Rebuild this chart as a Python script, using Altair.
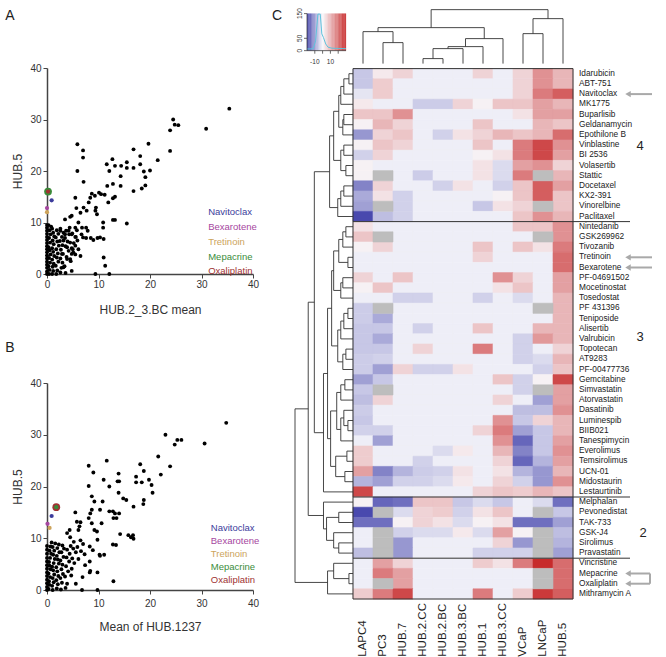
import altair as alt
import pandas as pd

FONT = "Liberation Sans"

# ---------------- Panels A and B (scatter) ----------------
a_points = [
    (35.4, 32.1), (24.5, 30.0), (24.8, 29.0), (25.5, 28.9), (23.9, 27.9), (30.9, 28.2), (23.9, 23.9),
    (19.7, 25.3), (21.5, 22.1), (20.0, 20.1), (18.8, 19.9), (19.1, 18.8), (19.1, 17.2), (18.4, 16.6),
    (16.8, 16.1), (18.1, 22.9), (18.1, 21.3), (16.8, 24.2), (16.8, 20.6), (15.5, 21.7), (15.5, 20.6),
    (14.4, 21.0), (13.2, 21.0), (12.7, 22.3), (11.6, 21.3), (12.1, 20.0), (11.7, 17.1), (12.8, 17.5),
    (14.3, 19.0), (14.3, 17.1), (13.2, 15.0), (12.8, 14.7), (11.9, 13.9), (10.5, 15.5), (11.2, 15.4),
    (10.1, 15.8), (9.3, 15.2), (8.7, 15.6), (8.4, 14.8), (8.1, 13.9), (9.5, 12.9), (9.7, 11.6),
    (9.4, 12.3), (7.1, 12.9), (7.7, 12.3), (6.5, 11.9), (5.9, 25.2), (7.0, 24.0), (7.0, 22.6),
    (5.9, 20.0), (7.1, 17.9), (5.5, 14.8), (5.7, 12.8), (4.8, 11.3), (4.5, 11.1), (3.5, 10.6),
    (10.9, 10.0), (10.9, 9.0), (12.8, 10.5), (13.2, 10.5), (15.5, 9.8), (7.6, 9.0), (6.8, 9.0),
    (7.9, 8.4), (6.7, 7.7), (7.0, 7.1), (7.6, 7.0), (8.5, 7.0), (9.0, 6.6), (9.8, 7.0), (10.3, 7.1),
    (11.0, 6.8), (5.9, 6.5), (5.5, 5.5), (6.1, 4.8), (6.5, 3.5), (4.8, 3.9), (4.5, 2.9), (11.0, 3.2),
    (11.3, 1.6), (9.4, 0.0), (12.1, 0.0), (2.6, 8.4), (3.5, 7.7), (4.2, 8.4), (4.8, 7.7), (5.5, 7.2),
    (3.2, 6.5), (4.5, 6.1), (3.9, 5.2), (5.0, 4.8), (2.9, 3.9), (3.9, 2.9), (3.2, 1.3), (4.8, 0.6),
    (6.1, 10.0), (5.5, 9.0),
]
a_cluster = [
    (0, 0), (0, 0.5), (0, 1.2), (0, 1.8), (0, 2.4), (0, 3.0), (0, 3.6), (0, 4.2), (0, 4.8), (0, 5.4),
    (0, 6.0), (0, 6.6), (0, 7.2), (0, 7.8), (0, 8.4), (0, 9.0), (0, 9.5),
    (0.4, 0), (0.5, 0.8), (0.3, 1.5), (0.6, 2.2), (0.4, 3.1), (0.7, 3.8), (0.5, 4.6), (0.3, 5.2),
    (0.6, 6.1), (0.4, 7.0), (0.7, 7.7), (0.5, 8.5), (0.8, 9.2), (0.3, 9.5),
    (1.0, 0), (1.2, 0.6), (1.1, 1.4), (1.3, 2.0), (1.0, 2.8), (1.4, 3.5), (1.2, 4.3), (1.0, 5.0),
    (1.3, 5.8), (1.1, 6.5), (1.4, 7.3), (1.2, 8.0), (1.0, 8.8),
    (1.8, 0), (2.0, 0.7), (1.7, 1.6), (2.2, 2.4), (1.9, 3.2), (2.1, 4.0), (1.8, 4.8), (2.3, 5.5),
    (2.0, 6.3), (1.7, 7.1), (2.2, 7.8), (1.9, 8.5),
    (2.6, 0.3), (2.8, 1.2), (3.0, 2.2), (2.6, 3.0), (3.1, 3.9), (2.7, 4.7), (3.0, 5.6), (2.5, 6.4),
    (2.9, 7.2), (3.2, 8.0), (2.6, 8.8),
    (3.6, 0.2), (3.4, 1.5), (3.8, 3.3), (4.2, 4.5), (3.6, 5.4), (4.0, 6.3), (3.5, 7.0), (4.3, 7.7),
    (3.7, 8.4), (4.4, 9.0),
    (4.8, 5.0), (5.2, 6.0), (5.6, 7.2), (4.9, 7.9), (5.8, 8.5), (5.1, 4.2), (4.6, 2.5), (5.5, 3.8),
]
b_points = [
    (34.8, 32.3), (30.6, 28.3), (23.0, 30.0), (25.3, 29.0), (26.1, 29.0), (24.8, 28.1), (23.9, 23.9),
    (21.6, 25.8), (22.1, 22.3), (19.8, 21.3), (20.3, 20.3), (20.5, 18.8), (18.8, 23.0), (18.1, 24.3),
    (17.3, 21.9), (17.3, 20.8), (18.4, 20.8), (18.8, 17.4), (18.7, 16.6), (16.8, 16.1), (14.8, 17.7),
    (15.4, 17.4), (13.7, 21.0), (14.0, 21.0), (13.9, 22.5), (13.9, 18.8), (11.6, 25.0), (11.0, 21.3),
    (12.1, 20.0), (10.8, 17.1), (10.3, 15.5), (12.1, 15.2), (12.8, 15.2), (13.2, 14.8), (14.0, 14.8),
    (12.9, 13.9), (13.5, 13.9), (8.1, 24.0), (9.0, 22.7), (8.1, 20.1), (8.7, 18.1), (9.2, 17.1),
    (8.1, 13.9), (8.7, 15.5), (8.4, 14.8), (8.7, 12.9), (9.2, 11.6), (9.7, 11.3), (10.6, 12.9),
    (5.5, 15.0), (5.8, 13.2), (6.5, 13.1), (6.1, 11.6), (6.3, 12.3), (4.4, 11.6), (3.9, 11.0),
    (9.8, 9.7), (14.2, 10.8), (15.8, 10.6), (16.3, 10.2), (16.7, 10.6), (16.8, 9.9), (12.8, 8.8),
    (13.4, 8.7), (8.3, 8.4), (8.9, 7.7), (10.3, 6.6), (11.1, 6.8), (10.2, 6.8), (8.3, 5.5), (8.4, 3.7),
    (8.3, 3.4), (9.8, 3.4), (12.9, 1.7), (6.8, 0.0), (9.8, 0.0), (6.5, 9.6), (7.0, 8.9), (5.9, 8.3),
    (6.6, 7.5), (7.3, 6.9), (5.2, 9.3), (6.1, 6.0), (7.4, 4.8), (6.9, 2.5), (5.6, 1.2), (4.5, 10.2),
]
b_cluster = [
    (0, 0), (0, 0.6), (0, 1.3), (0, 2.0), (0, 2.7), (0, 3.4), (0, 4.1), (0, 4.8), (0, 5.5), (0, 6.2),
    (0, 7.0), (0, 7.8), (0, 8.5),
    (0.3, 0.2), (0.5, 1.0), (0.4, 1.7), (0.6, 2.5), (0.3, 3.2), (0.7, 4.0), (0.5, 4.7), (0.4, 5.4),
    (0.6, 6.2), (0.8, 7.0), (0.5, 7.6), (0.7, 8.4), (0.9, 9.2),
    (1.1, 0), (1.0, 0.8), (1.3, 1.5), (1.1, 2.3), (1.4, 3.0), (1.2, 3.8), (1.0, 4.5), (1.3, 5.2),
    (1.5, 6.0), (1.2, 6.8), (1.4, 7.6), (1.1, 8.3), (1.6, 9.0),
    (1.9, 0.3), (2.1, 1.1), (1.8, 1.9), (2.2, 2.7), (2.0, 3.6), (1.8, 4.4), (2.3, 5.1), (2.1, 5.9),
    (1.9, 6.6), (2.4, 7.3), (2.0, 8.1), (2.3, 8.8),
    (2.7, 0.1), (2.9, 1.4), (2.6, 2.3), (3.1, 3.1), (2.8, 4.0), (3.0, 4.9), (2.6, 5.7), (3.2, 6.4),
    (2.8, 7.3), (3.3, 8.0), (3.0, 8.6),
    (3.6, 0.4), (3.9, 1.2), (3.5, 2.6), (4.1, 3.6), (3.7, 4.6), (4.3, 5.5), (3.8, 6.3), (4.4, 7.0),
    (3.9, 7.8), (4.6, 8.5),
    (4.8, 4.1), (5.3, 5.2), (4.9, 6.1), (5.6, 7.3), (5.1, 8.0), (4.7, 2.8),
]

hl_names = ["Navitoclax", "Bexarotene", "Tretinoin", "Mepacrine", "Oxaliplatin"]
hl_colors = ["#3c3c9c", "#a646a0", "#cda45c", "#3a8c3a", "#a03232"]
hl_ax = [0.9, 0.0, 0.0, 0.2, 0.2]
hl_ay = [14.3, 12.8, 12.0, 16.0, 16.0]
hl_bx = [0.9, 0.1, 0.5, 1.8, 1.8]
hl_by = [14.3, 12.8, 12.0, 16.0, 16.0]

# ---------------- Panel C (heatmap) ----------------
cell_lines = ["LAPC4", "PC3", "HUB.7", "HUB.2.CC", "HUB.2.BC", "HUB.3.BC", "HUB.1", "HUB.3.CC",
              "VCaP", "LNCaP", "HUB.5"]
drugs_4 = ["Idarubicin", "ABT-751", "Navitoclax", "MK1775", "Buparlisib", "Geldanamycin",
           "Epothilone B", "Vinblastine", "BI 2536", "Volasertib", "Stattic", "Docetaxel",
           "KX2-391", "Vinorelbine", "Paclitaxel"]
drugs_3 = ["Nintedanib", "GSK269962", "Tivozanib", "Tretinoin", "Bexarotene", "PF-04691502",
           "Mocetinostat", "Tosedostat", "PF 431396", "Teniposide", "Alisertib", "Valrubicin",
           "Topotecan", "AT9283", "PF-00477736", "Gemcitabine", "Simvastatin", "Atorvastatin",
           "Dasatinib", "Luminespib", "BIIB021", "Tanespimycin", "Everolimus", "Temsirolimus",
           "UCN-01", "Midostaurin", "Lestaurtinib"]
drugs_2 = ["Melphalan", "Pevonedistat", "TAK-733", "GSK-J4", "Sirolimus", "Pravastatin"]
drugs_1 = ["Vincristine", "Mepacrine", "Oxaliplatin", "Mithramycin A"]
N = None
values_4 = [
    [-5, 2, 5, -1, -1, -1, 5, -1, 5, 14, 9],
    [-5, 6, -1, -1, -1, -1, -1, -1, 5, 14, 9],
    [-2, 6, -1, -1, -1, -1, -1, -1, 5, 17, 21],
    [2, -1, -1, -4.5, -4.5, 5, 1, 7, 7, 12, 9],
    [7, 7, 14, -1, -1, -1, -1, -1, 3, 12, 12],
    [1, 9, 5, -1, -1, -1, 7, -1, -1, 9, 7],
    [-10, 5, 7, -1, -4, 3, 5, 9, 7, 9, 19],
    [1, 7, 5, -1, -1, -1, 7, -1, 17, 24, 14],
    [-4, 5, -1, -1, -1, -1, 1, 3, 17, 24, 12],
    [1, -1, -1, -1, -1, -1, 3, -3, 12, 14, 5],
    [1, N, -1, -4.5, -1, -1, 3, -3, 17, N, 9],
    [-12, 5, -1, -1, -4, 3, -1, -4, 7, 21, 12],
    [-8, 3, -4, -1, -1, -1, -1, 1, 7, 21, 7],
    [-9, N, -4, -1, -1, -1, -5, 3, 5, N, 7],
    [-18, -6, -4, -1, -1, -1, -1, -1, 7, 14, 9],
]
values_3 = [
    [3, -1, -1, -1, -1, -1, -1, -1, 7, 7, 14],
    [7, N, -1, -1, -1, -1, -1, -1, -1, N, 14],
    [1, 5, -1, -1, -1, -1, 7, -1, 7, 3, 17],
    [-1, -1, -1, -1, -1, -1, 5, -1, -1, -1, 19],
    [-1, -1, -1, -1, -1, -1, -1, -1, -1, -1, 19],
    [5, -1, 7, -1, -1, -1, -1, 14, 5, -1, 12],
    [1, 7, -1, -1, -1, -1, -1, 3, 7, -1, 12],
    [-1, -1, -4, -4, -1, -1, -4, -1, -3, -1, 9],
    [-4.5, N, -1, -1, -1, -1, -1, -1, -1, N, 9],
    [-4.5, -8, -1, -1, -1, -1, -1, -1, -1, -1, 9],
    [-5, -5, -1, -4, -1, -1, 7, -1, -1, 9, 9],
    [-5, -8, -1, -1, -1, -1, -1, -1, -4, 13, 9],
    [-5, -5, -1, 5, -1, -1, 17, -1, -4, -1, 5],
    [-4.5, -4, -1, -1, -1, -1, -1, -1, -4, -3, 9],
    [-4.5, -9, 5, -4, -4, 3, -1, -1, -1, -4, 7],
    [-9, -5, -1, -1, -1, -1, -1, 7, -4, 1, 24],
    [-5, N, -1, -1, -1, -1, -1, -1, -4, N, 12],
    [-6, 5, -1, -1, -1, -1, -1, 5, -1, -9, 12],
    [-4.5, -1, -1, -1, -1, -1, -1, -1, -6, -6, 14],
    [-5, -1, -1, -1, -1, -1, -1, 14, -5, 5, 9],
    [-4, -4, -1, -1, -1, -1, 5, 17, -9, -5, 9],
    [-1, -9, -1, -1, -1, -1, -1, 14, -15, -5, 12],
    [6, -1, -1, -1, -3, 2, -1, 9, -12, -5, 14],
    [6, -1, -1, -4, -1, -1, -1, 5, -15, -7, 12],
    [12, -12, -7, -4.5, -4, 3, -1, 3, -7, -10, 9],
    [-7, -9, -4, -4, -3, 2, -1, 5, -4, -10, 14],
    [24, -1, -1, -1, -1, -1, 5, 7, 6, 9, 7],
]
values_2 = [
    [1, -15, -14, 7, 7, -5, -3, -5, -1, -3, -14],
    [-18, N, -3, 5, 6, -4, 3, 7, -1, N, -5],
    [-14, -14, 1, 5, 3, -3, 1, 3, -14, -14, -9],
    [-1, N, -4, -3, -3, 2, -3, 12, 1, N, -6],
    [-1, N, -10, -1, -1, -1, -1, 5, -10, N, -7],
    [-6, N, -10, -1, -1, -1, -4, -4, -4, N, -9],
]
values_1 = [
    [-1, 12, 5, -1, -1, -1, 6, 3, 17, 28, 19],
    [-1, 17, 12, -1, -1, -1, -1, -1, -1, N, 19],
    [-1, N, 12, -1, -1, -1, -1, -1, -1, N, 19],
    [6, 17, 24, -1, -1, -1, 17, -1, 6, 26, 21],
]

# dendrograms: (left, right, merge height); leaves are row / column indices
row_tree = (
    ((((((((0, 1, 4), 2, 9), 3, 12), ((4, 5, 9), 6, 10), 14),
        ((7, 8, 9), (9, 10, 7), 12), 19),
       ((((11, 12, 9), 13, 12), 14, 15)), 23),
      (((((((15, 16, 7), 17, 10), (18, 19, 5), 14), (((20, 21, 10), 22, 12)), 19),
          (((((23, 24, 5), 25, 9), 26, 12)), ((27, 28, 7), 29, 10), 15), 21),
         (((((30, 31, 8), 32, 12), ((33, (34, 35, 5), 9), 36, 12), 16),
           ((37, 38, 6), (39, 40, 8), 17), 22)), 25),
        41, 29), 38),
     (42, ((43, 44, 14), (45, (46, 47, 14), 19), 26), 29), 44),
    ((48, (49, 50, 4), 19), 51, 25), 57)
col_tree = (((0, (1, 2, 21), 32), ((((3, 4, 5), 5, 15), 6, 17), 7, 25), 36),
            ((8, 9, 30), 10, 45), 54)

group_labels = ["4", "3", "2"]
arrow_drugs = ["Navitoclax", "Tretinoin", "Bexarotene"]
bracket_drugs = ["Mepacrine", "Oxaliplatin"]

# colour-key histogram (value, count) read from the key
hist_v = [-20, -15, -12, -9, -6, -3, -1, 1, 4, 7, 12, 20, 30]
hist_count = [7, 7, 8, 40, 148, 148, 68, 54, 27, 14, 10, 9, 8]

# =====================================================================
AX_COMMON = dict(grid=False, tickSize=4, labelFontSize=10, titleFontSize=12,
                 titleFontWeight="normal", labelColor="#333333", titleColor="#333333",
                 domainColor="#444444", tickColor="#444444", domainWidth=1.5,
                 labelFont=FONT, titleFont=FONT, values=[0, 10, 20, 30, 40], labelFlush=False)


def scatter_panel(points, hx, hy, big, xtitle, label, label_y, leg_x, leg_step, h,
                  lab_pad, title_pad):
    xsc = alt.Scale(domain=[0, 40], nice=False, zero=False)
    ysc = alt.Scale(domain=[0, 40], nice=False, zero=False)
    X = alt.X("x:Q", scale=xsc, axis=alt.Axis(title=xtitle, labelPadding=lab_pad,
                                              titlePadding=title_pad, **AX_COMMON))
    Y = alt.Y("y:Q", scale=ysc, axis=alt.Axis(title="HUB.5", labelPadding=2,
                                              titlePadding=5, **AX_COMMON))
    pts = pd.DataFrame(points, columns=["x", "y"])
    hl = pd.DataFrame({"name": hl_names, "x": hx, "y": hy})
    cscale = alt.Scale(domain=hl_names, range=hl_colors)
    col = alt.Color("name:N", scale=cscale, legend=None)
    base = alt.Chart(pts).mark_circle(size=15, color="black", opacity=1).encode(x=X, y=Y)
    big_l = alt.Chart(hl[hl.name == big]).mark_circle(size=60, opacity=1).encode(x=X, y=Y, color=col)
    small_l = alt.Chart(hl[hl.name != big]).mark_circle(size=18, opacity=1).encode(x=X, y=Y, color=col)
    leg = pd.DataFrame({"name": hl_names, "x": [leg_x] * 5,
                        "y": [12.0 - leg_step * i for i in range(5)]})
    leg_l = alt.Chart(leg).mark_text(align="left", baseline="middle", fontSize=9.5,
                                     font=FONT).encode(x=X, y=Y, text="name:N", color=col)
    lab = alt.Chart(pd.DataFrame({"t": [label], "x": [-7.2], "y": [label_y]})).mark_text(
        fontSize=14, font=FONT, color="#222222", baseline="middle").encode(x=X, y=Y, text="t:N")
    return alt.layer(base, big_l, small_l, leg_l, lab).properties(width=206, height=h)


A = scatter_panel(a_points + a_cluster, hl_ax, hl_ay, "Mepacrine", "HUB.2_3.BC mean", "A",
                  50.1, 31.3, 2.875, 206, 1, 15)
B = scatter_panel(b_points + b_cluster, hl_bx, hl_by, "Oxaliplatin", "Mean of HUB.1237", "B",
                  46.8, 31.8, 2.52, 207, 4, 13)

# ---------------- heatmap panel ----------------
drugs = drugs_4 + drugs_3 + drugs_2 + drugs_1
values = values_4 + values_3 + values_2 + values_1
ROW_H = 10.2
CW, CH = 278, 531
XS = alt.Scale(domain=[-2.9, 11], nice=False, zero=False)
YS = alt.Scale(domain=[52, 52 - CH / ROW_H], nice=False, zero=False)
CS = alt.Scale(domain=[-20, 0, 30], range=["#3535a5", "#f8f8fb", "#c41c1c"], interpolate="rgb")
cx = alt.X("u:Q", scale=XS, axis=None)
cy = alt.Y("r:Q", scale=YS, axis=None)
cx2 = alt.X2("u2")
cy2 = alt.Y2("r2")

cells = []
for r, vals in enumerate(values):
    for c, v in enumerate(vals):
        cells.append(dict(u=c, u2=c + 1, r=r, r2=r + 1, value=v, na=v is None))
cells = pd.DataFrame(cells)
val_df = cells[~cells.na].copy()
val_df["value"] = val_df["value"].astype(float)
na_df = cells[cells.na]

heat = alt.Chart(val_df).mark_rect(strokeWidth=0.6).encode(
    x=cx, x2=cx2, y=cy, y2=cy2,
    fill=alt.Fill("value:Q", scale=CS, legend=None),
    stroke=alt.Stroke("value:Q", scale=CS, legend=None))
na_l = alt.Chart(na_df).mark_rect(fill="#bdbdbd", stroke="#bdbdbd", strokeWidth=0.6).encode(
    x=cx, x2=cx2, y=cy, y2=cy2)
border = alt.Chart(pd.DataFrame({"u": [0], "u2": [11], "r": [0], "r2": [52]})).mark_rect(
    fillOpacity=0, stroke="#333333", strokeWidth=1).encode(x=cx, x2=cx2, y=cy, y2=cy2)

grp_starts = [len(drugs_4), len(drugs_4) + len(drugs_3), len(drugs_4) + len(drugs_3) + len(drugs_2)]
seps = alt.Chart(pd.DataFrame({"u": [0] * 3, "u2": [13.85] * 3, "r": grp_starts, "r2": grp_starts})
                 ).mark_rule(color="#333333", strokeWidth=1).encode(x=cx, x2=cx2, y=cy, y2=cy2)


def dendro(tree):
    segs = []

    def walk(node):
        if isinstance(node, int):
            return node + 0.5, 0.0
        left, right, h = node
        pl, hl_ = walk(left)
        pr, hr = walk(right)
        segs.append((pl, hl_, pl, h))
        segs.append((pr, hr, pr, h))
        segs.append((pl, h, pr, h))
        return (pl + pr) / 2, h
    walk(tree)
    return segs


row_k = 2.9 / 57
rseg = pd.DataFrame([dict(u=-h1 * row_k, u2=-h2 * row_k, r=p1, r2=p2)
                     for p1, h1, p2, h2 in dendro(row_tree)])
col_k = 5.29 / 54
cseg = pd.DataFrame([dict(u=p1, u2=p2, r=-0.49 - h1 * col_k, r2=-0.49 - h2 * col_k)
                     for p1, h1, p2, h2 in dendro(col_tree)])
rden = alt.Chart(rseg).mark_rule(color="#333333", strokeWidth=0.9).encode(x=cx, x2=cx2, y=cy, y2=cy2)
cden = alt.Chart(cseg).mark_rule(color="#333333", strokeWidth=0.9).encode(x=cx, x2=cx2, y=cy, y2=cy2)

rlab = alt.Chart(pd.DataFrame({"name": drugs, "u": 11.3, "r": [i + 0.5 for i in range(len(drugs))]})
                 ).mark_text(align="left", baseline="middle", fontSize=8.3, font=FONT,
                             color="#222222").encode(x=cx, y=cy, text="name:N")
clab = alt.Chart(pd.DataFrame({"name": cell_lines, "u": [i + 0.5 for i in range(11)], "r": 57.66})
                 ).mark_text(align="left", baseline="middle", angle=270, fontSize=11.5, font=FONT,
                             color="#222222").encode(x=cx, y=cy, text="name:N")
glab = alt.Chart(pd.DataFrame({"t": group_labels, "u": [14.35, 14.35, 14.5], "r": [7.55, 26.3, 45.5]})
                 ).mark_text(fontSize=13, font=FONT, color="#222222", baseline="middle").encode(
    x=cx, y=cy, text="t:N")
clabel = alt.Chart(pd.DataFrame({"t": ["C"], "u": [-3.8], "r": [-5.2]})).mark_text(
    fontSize=14, font=FONT, color="#222222", baseline="middle").encode(x=cx, y=cy, text="t:N")

# arrows
ARROW = "#a9a9a9"
arows = [drugs.index(d) + 0.5 for d in arrow_drugs]
brows = [drugs.index(d) + 0.5 for d in bracket_drugs]
shafts = pd.DataFrame({"u": [13.8] * 5, "u2": [14.95] * 3 + [14.85] * 2, "r": arows + brows,
                       "r2": arows + brows})
shaft_l = alt.Chart(shafts).mark_rule(color=ARROW, strokeWidth=2).encode(x=cx, x2=cx2, y=cy, y2=cy2)
brk = alt.Chart(pd.DataFrame({"u": [14.85], "u2": [14.85], "r": [brows[0]], "r2": [brows[1]]})
                ).mark_rule(color=ARROW, strokeWidth=2).encode(x=cx, x2=cx2, y=cy, y2=cy2)
heads = alt.Chart(pd.DataFrame({"u": [13.75] * 5, "r": arows + brows})).mark_point(
    shape="triangle-left", filled=True, size=40, color=ARROW, opacity=1).encode(x=cx, y=cy)

# colour key
KX0, KX1, KY0, KY1 = -2.3, -0.35, -5.39, -1.76
V0, V1 = -20, 30


def kx(v):
    return KX0 + (v - V0) / (V1 - V0) * (KX1 - KX0)


def ky(c):
    return KY1 - c / 150 * (KY1 - KY0)


grad = pd.DataFrame([dict(u=kx(v), u2=kx(v + 1) + 0.005, r=KY0, r2=KY1, value=v + 0.5)
                     for v in range(V0, V1)])
grad_l = alt.Chart(grad).mark_rect().encode(x=cx, x2=cx2, y=cy, y2=cy2,
                                             fill=alt.Fill("value:Q", scale=CS, legend=None))
hist = pd.DataFrame({"u": [kx(v) for v in hist_v], "r": [ky(c) for c in hist_count],
                     "o": list(range(len(hist_v)))})
hist_l = alt.Chart(hist).mark_line(color="#5fc3dc", strokeWidth=1).encode(x=cx, y=cy, order="o:Q")
kticks_x = [-10, 0, 10, 20]
kticks_c = [0, 50, 150]
kax = pd.DataFrame(
    [dict(u=KX0, u2=KX1, r=KY1, r2=KY1), dict(u=KX0, u2=KX0, r=KY1, r2=KY0)]
    + [dict(u=kx(v), u2=kx(v), r=KY1, r2=KY1 + 0.3) for v in kticks_x]
    + [dict(u=KX0 - 0.15, u2=KX0, r=ky(c), r2=ky(c)) for c in kticks_c])
kax_l = alt.Chart(kax).mark_rule(color="#444444", strokeWidth=0.8).encode(x=cx, x2=cx2, y=cy, y2=cy2)
kxl = alt.Chart(pd.DataFrame({"t": ["-10", "10"], "u": [kx(-10), kx(10)], "r": [-0.62, -0.62]})
                ).mark_text(fontSize=6.5, font=FONT, color="#333333", baseline="middle").encode(
    x=cx, y=cy, text="t:N")
kyl = alt.Chart(pd.DataFrame({"t": [str(c) for c in kticks_c], "u": [KX0 - 0.33] * 3,
                              "r": [ky(c) for c in kticks_c]})
                ).mark_text(fontSize=6.5, font=FONT, color="#333333", baseline="middle",
                            angle=270).encode(x=cx, y=cy, text="t:N")

C = alt.layer(heat, na_l, border, seps, rden, cden, rlab, clab, glab, clabel,
              shaft_l, brk, heads, grad_l, hist_l, kax_l, kxl, kyl).properties(width=CW, height=CH)

chart = alt.hconcat(alt.vconcat(A, B, spacing=25), C, spacing=11).properties(
    padding={"left": 5, "top": 8, "right": 4, "bottom": 0}
).configure(font=FONT).configure_view(strokeWidth=0)

chart.save("out.html", embed_options={"renderer": "svg", "actions": False})
